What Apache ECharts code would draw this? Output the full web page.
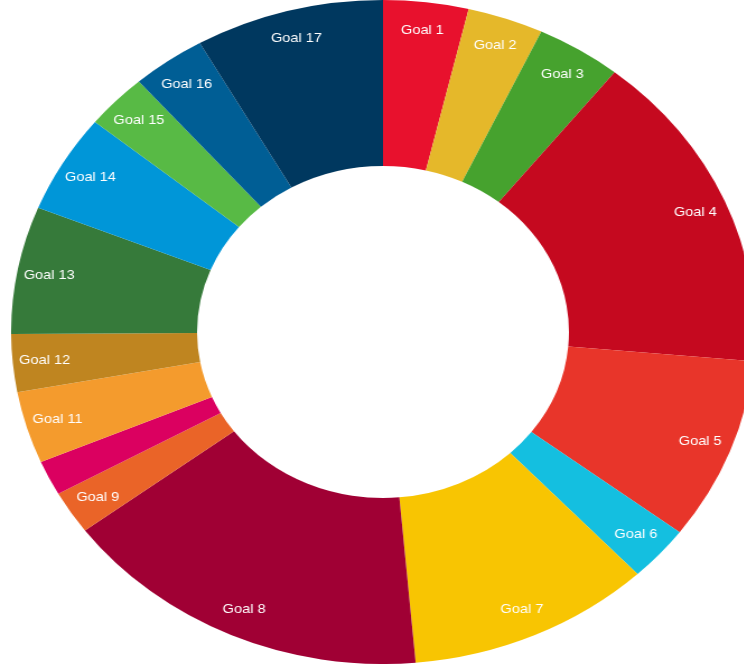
<!DOCTYPE html>
<html>
<head>
<meta charset="utf-8">
<script src="https://cdn.jsdelivr.net/npm/echarts@6/dist/echarts.min.js"></script>
<style>
  html, body { margin: 0; padding: 0; background: #fff; overflow: hidden; }
  /* the reference donut is stretched horizontally, so scale the square chart */
  #chart {
    position: absolute;
    left: 51px;
    top: 0;
    width: 664px;
    height: 664px;
    transform: scaleX(1.12);
    transform-origin: 50% 50%;
  }
</style>
</head>
<body>
<div id="chart"></div>
<script>
// 分类
const goals = ['Goal 1', 'Goal 2', 'Goal 3', 'Goal 4', 'Goal 5', 'Goal 6', 'Goal 7', 'Goal 8', 'Goal 9',
  'Goal 10', 'Goal 11', 'Goal 12', 'Goal 13', 'Goal 14', 'Goal 15', 'Goal 16', 'Goal 17'];
// 各目标占比 (%)
const shares = [3.7, 3.3, 3.7, 15.7, 8.9, 2.7, 10.6, 16.2, 2.1, 1.7, 3.5, 2.8, 6.2, 4.8, 2.7, 3.2, 8.2];
// 不显示标签的目标
const hiddenLabels = ['Goal 10'];
// 颜色配置
const goalColors = ['#e8112d', '#e5b82a', '#46a22e', '#c5091f', '#e8352a', '#14bfe0', '#f8c502', '#a00034',
  '#ea6428', '#db0060', '#f49b2d', '#bf8520', '#367a3a', '#0096d8', '#58ba45', '#005e95', '#00385f'];

let chart = echarts.init(document.getElementById('chart'));

let ringData = goals.map((name, i) => ({
  name,
  value: shares[i],
  itemStyle: { color: goalColors[i] }
}));

// 透明外圈只负责放标签，靠近外沿
let labelData = goals.map((name, i) => ({
  name,
  value: shares[i],
  label: { show: hiddenLabels.indexOf(name) === -1 }
}));

chart.setOption({
  animation: false,
  series: [
    {
      type: 'pie',
      radius: ['50%', '100%'],
      center: ['50%', '50%'],
      startAngle: 90,
      clockwise: true,
      silent: true,
      label: { show: false },
      labelLine: { show: false },
      itemStyle: { borderWidth: 0 },
      data: ringData
    },
    {
      type: 'pie',
      radius: ['81%', '100%'],
      center: ['50%', '50%'],
      startAngle: 90,
      clockwise: true,
      silent: true,
      itemStyle: { color: 'rgba(0,0,0,0)', borderWidth: 0 },
      label: {
        position: 'inside',
        color: '#fff',
        fontFamily: 'Liberation Sans, Arial, sans-serif',
        fontSize: 13
      },
      labelLine: { show: false },
      data: labelData
    }
  ]
});
</script>
</body>
</html>
